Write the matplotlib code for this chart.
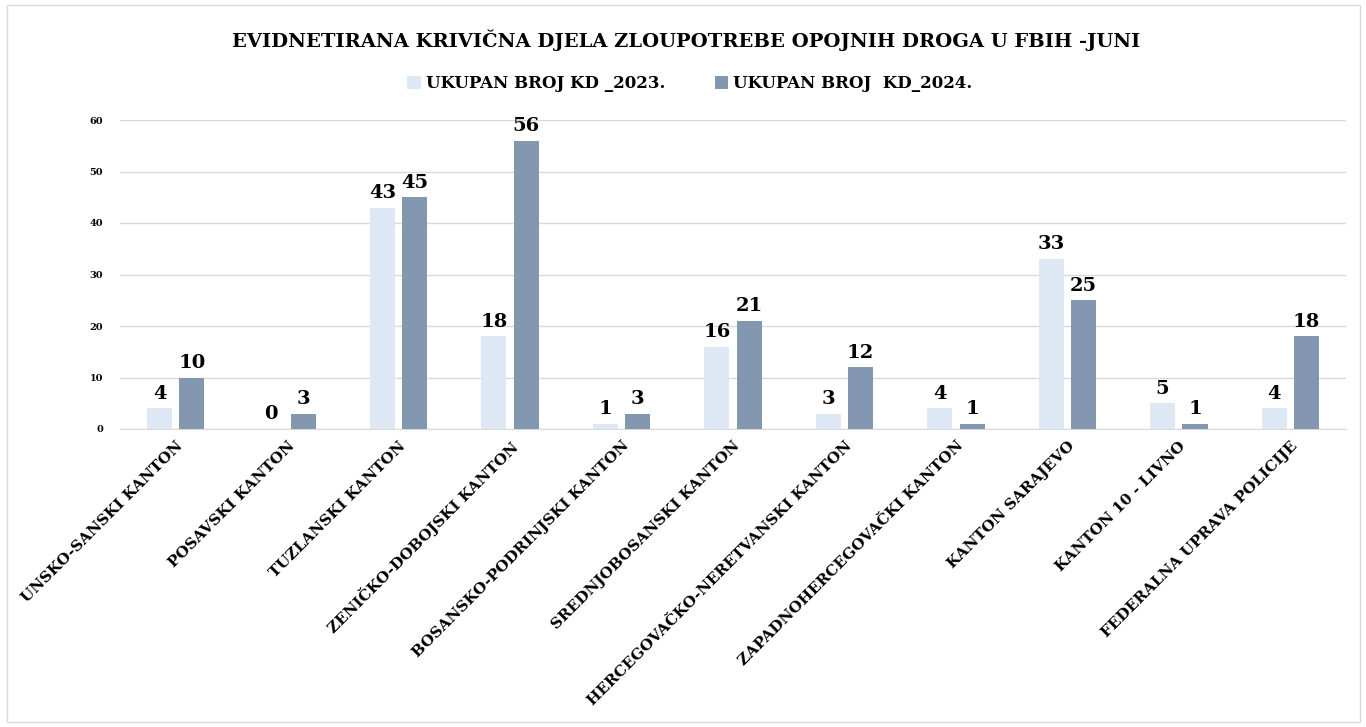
import numpy as np
import matplotlib.pyplot as plt
from matplotlib.patches import Rectangle

# podaci
kategorije = ["UNSKO-SANSKI KANTON", "POSAVSKI KANTON", "TUZLANSKI KANTON",
              "ZENIČKO-DOBOJSKI KANTON", "BOSANSKO-PODRINJSKI KANTON",
              "SREDNJOBOSANSKI KANTON", "HERCEGOVAČKO-NERETVANSKI KANTON",
              "ZAPADNOHERCEGOVAČKI KANTON", "KANTON SARAJEVO", "KANTON 10 - LIVNO",
              "FEDERALNA UPRAVA POLICIJE"]
kd_2023 = [4, 0, 43, 18, 1, 16, 3, 4, 33, 5, 4]
kd_2024 = [10, 3, 45, 56, 3, 21, 12, 1, 25, 1, 18]
serije = ["UKUPAN BROJ KD _2023.", "UKUPAN BROJ  KD_2024."]
boje = ["#DDE8F4", "#8497B0"]

plt.rcParams['font.family'] = ['DejaVu Serif']
plt.rcParams['font.weight'] = 'bold'

fig = plt.figure(figsize=(13.66, 7.27), dpi=100)
ax = fig.add_axes([120 / 1366, 1 - 429 / 727, 1226 / 1366, 309 / 727])

# okvir oko cijele slike
fig.patches.append(Rectangle((7 / 1366, 5 / 727), 1353 / 1366, 717 / 727,
                             transform=fig.transFigure, fill=False,
                             edgecolor="#D9D9D9", linewidth=1))

x = np.arange(len(kategorije))
w = 0.225
off = 0.145
b1 = ax.bar(x - off, kd_2023, w, color=boje[0], label=serije[0], zorder=3)
b2 = ax.bar(x + off, kd_2024, w, color=boje[1], label=serije[1], zorder=3)

for bars in (b1, b2):
    ax.bar_label(bars, padding=4, fontsize=14, fontweight='bold', color="black")

ax.set_xlim(-0.5, len(kategorije) - 0.5)
ax.set_ylim(0, 60)
ax.set_yticks(range(0, 61, 10))
ax.tick_params(axis='y', labelsize=7, length=0, pad=12)
ax.tick_params(axis='x', length=0, pad=7)
ax.grid(axis='y', color="#D9D9D9", linewidth=1, zorder=0)
for s in ['top', 'right', 'left']:
    ax.spines[s].set_visible(False)
ax.spines['bottom'].set_color("#D9D9D9")

ax.set_xticks(x)
ax.set_xticklabels(kategorije, rotation=45, ha='right', rotation_mode='anchor',
                   fontsize=11, fontweight='bold')

fig.suptitle("EVIDNETIRANA KRIVIČNA DJELA ZLOUPOTREBE OPOJNIH DROGA U FBIH -JUNI",
             x=0.502, y=0.96, fontsize=14, fontweight='bold')

fig.legend(loc='center', bbox_to_anchor=(0.505, 1 - 84 / 727), ncol=2, frameon=False,
           prop={'size': 12, 'weight': 'bold'}, handlelength=0.8, handleheight=0.8,
           columnspacing=3, handletextpad=0.3)

plt.savefig("out.png", dpi=100)
